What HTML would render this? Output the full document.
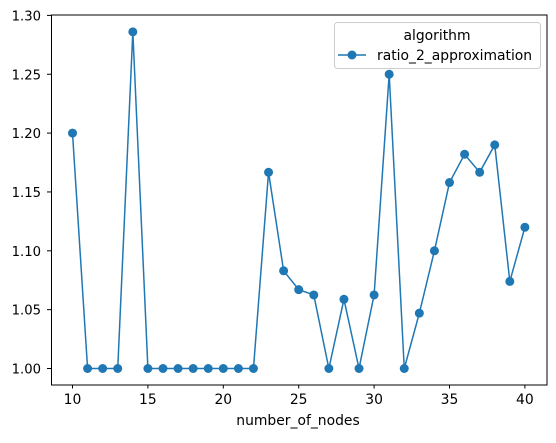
<!DOCTYPE html>
<html><head><meta charset="utf-8"><style>
body{margin:0;background:#fff}
svg text{font-family:"DejaVu Sans","Liberation Sans",sans-serif;fill:#000}
</style></head><body>
<svg id="c" width="556" height="438">
<rect x="51.5" y="15" width="495.5" height="370" fill="none" stroke="#000" stroke-width="1"/>
<g id="ticks"></g>
<polyline id="line" fill="none" stroke="#1f77b4" stroke-width="1.5"/>
<g id="pts"></g>
<text x="298" y="425" font-size="13.9" text-anchor="middle">number_of_nodes</text>
<g>
<rect x="334.5" y="22.5" width="206" height="46" rx="3" fill="#fff" fill-opacity="0.8" stroke="#ccc"/>
<text x="437" y="40" font-size="13.9" text-anchor="middle">algorithm</text>
<line x1="338" y1="55" x2="366" y2="55" stroke="#1f77b4" stroke-width="1.5"/>
<circle cx="352" cy="55" r="4.5" fill="#1f77b4"/>
<text x="377" y="60" font-size="13.9">ratio_2_approximation</text>
</g>
</svg>
<script>
const xs=[10,11,12,13,14,15,16,17,18,19,20,21,22,23,24,25,26,27,28,29,30,31,32,33,34,35,36,37,38,39,40];
const ys=[1.2,1,1,1,1.286,1,1,1,1,1,1,1,1,1.1667,1.083,1.067,1.0625,1,1.0588,1,1.0625,1.25,1,1.047,1.1,1.158,1.182,1.1667,1.19,1.074,1.12];
const xTicks=[10,15,20,25,30,35,40];
const yTicks=[1.00,1.05,1.10,1.15,1.20,1.25,1.30];
const NS="http://www.w3.org/2000/svg";
const X=v=>72.5+(v-10)*15.08;
const Y=v=>368.5-(v-1)*1177;
const tg=document.getElementById('ticks');
function mk(t,a,p){const e=document.createElementNS(NS,t);for(const k in a)e.setAttribute(k,a[k]);p.appendChild(e);return e;}
xTicks.forEach(v=>{
 const l=mk('line',{x1:X(v),x2:X(v),y1:385,y2:388.5,stroke:'#000'},tg);
 
 
 const t=mk('text',{x:X(v),y:404,'font-size':13.9,'text-anchor':'middle'},tg);t.textContent=v;
 
 
});
yTicks.forEach(v=>{
 const l=mk('line',{x1:47,x2:51.5,y1:Y(v),y2:Y(v),stroke:'#000'},tg);
 
 
 const t=mk('text',{x:41,y:Y(v)+5,'font-size':13.2,'text-anchor':'end'},tg);t.textContent=v.toFixed(2);
 
 
});
document.getElementById('line').setAttribute('points',xs.map((x,i)=>X(x)+','+Y(ys[i])).join(' '));
const pg=document.getElementById('pts');
xs.forEach((x,i)=>{
 const c=mk('circle',{cx:X(x),cy:Y(ys[i]),r:4.5,fill:'#1f77b4'},pg);
 
 
});
</script>
</body></html>
